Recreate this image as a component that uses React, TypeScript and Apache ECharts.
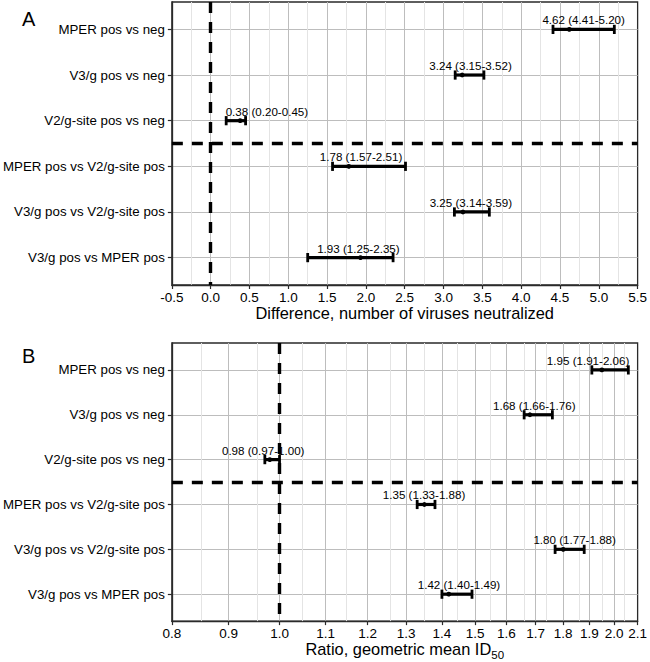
import React, { useEffect, useRef } from "react";
import * as echarts from "echarts";

// ---- data ----
const rowLabels = [
  "MPER pos vs neg",
  "V3/g pos vs neg",
  "V2/g-site pos vs neg",
  "MPER pos vs V2/g-site pos",
  "V3/g pos vs V2/g-site pos",
  "V3/g pos vs MPER pos",
];

// Panel A: difference, number of viruses neutralized
const estA = [4.62, 3.24, 0.38, 1.78, 3.25, 1.93];
const loA = [4.41, 3.15, 0.2, 1.57, 3.14, 1.25];
const hiA = [5.2, 3.52, 0.45, 2.51, 3.59, 2.35];
const labelsA = [
  "4.62 (4.41-5.20)",
  "3.24 (3.15-3.52)",
  "0.38 (0.20-0.45)",
  "1.78 (1.57-2.51)",
  "3.25 (3.14-3.59)",
  "1.93 (1.25-2.35)",
];

// Panel B: ratio, geometric mean ID50
const estB = [1.95, 1.68, 0.98, 1.35, 1.8, 1.42];
const loB = [1.91, 1.66, 0.97, 1.33, 1.77, 1.4];
const hiB = [2.06, 1.76, 1.0, 1.38, 1.88, 1.49];
const labelsB = [
  "1.95 (1.91-2.06)",
  "1.68 (1.66-1.76)",
  "0.98 (0.97-1.00)",
  "1.35 (1.33-1.88)",
  "1.80 (1.77-1.88)",
  "1.42 (1.40-1.49)",
];
const ticksB = [0.8, 0.9, 1.0, 1.1, 1.2, 1.3, 1.4, 1.5, 1.6, 1.7, 1.8, 1.9, 2.0, 2.1];

// reference lines
const refA = 0;
const refB = 1;
const groupSplit = 2.5;

// label nudges (px), as placed in the figure
const nudgeA = [0, 1, 31, -8, -1, 8];
const nudgeB = [-22, -4, -9, -2, 5, 2];

const FONT = '"Liberation Sans", Arial, Helvetica, sans-serif';
const MAJOR = "#bdbdbd";
const MINOR = "#e4e4e4";
const BORDER = "#2a2a2a";

export default function App() {
  const ref = useRef<HTMLDivElement>(null);

  useEffect(() => {
    const chart = echarts.init(ref.current as HTMLDivElement, null, { renderer: "svg" });
    const lg = (v: number) => Math.log10(v);
    const rowVals = rowLabels.map((_, i) => i);

    const makeRender =
      (labels: string[], nudge: number[]) => (params: any, api: any) => {
        const y = api.value(3);
        const pE = api.coord([api.value(0), y]);
        const pL = api.coord([api.value(1), y]);
        const pH = api.coord([api.value(2), y]);
        const idx = params.dataIndex;
        const cap = 4.6;
        return {
          type: "group",
          children: [
            { type: "line", shape: { x1: pL[0], y1: pL[1], x2: pH[0], y2: pH[1] }, style: { stroke: "#000", lineWidth: 3.2 } },
            { type: "line", shape: { x1: pL[0], y1: pL[1] - cap, x2: pL[0], y2: pL[1] + cap }, style: { stroke: "#000", lineWidth: 2.8 } },
            { type: "line", shape: { x1: pH[0], y1: pH[1] - cap, x2: pH[0], y2: pH[1] + cap }, style: { stroke: "#000", lineWidth: 2.8 } },
            { type: "circle", shape: { cx: pE[0], cy: pE[1], r: 2.4 }, style: { fill: "#000" } },
            {
              type: "text",
              x: (pL[0] + pH[0]) / 2 + nudge[idx],
              y: pE[1] - 9.5,
              style: {
                text: labels[idx],
                fill: "#000",
                fontSize: 11.6,
                fontFamily: FONT,
                textAlign: "center",
                textVerticalAlign: "middle",
                align: "center",
                verticalAlign: "middle",
              },
            },
          ],
        };
      };

    const yAxisBase = (gridIndex: number) => ({
      type: "value",
      gridIndex,
      inverse: true,
      min: -0.6,
      max: 5.6,
      axisLine: { show: true, onZero: false, lineStyle: { color: BORDER, width: 1.3 } },
      axisTick: { show: true, length: 4, customValues: rowVals, lineStyle: { color: BORDER, width: 1.2 } },
      axisLabel: {
        customValues: rowVals,
        formatter: (v: number) => rowLabels[Math.round(v)] ?? "",
        color: "#000",
        fontSize: 13.3,
        fontFamily: FONT,
        margin: 7,
      },
      splitLine: { show: true, lineStyle: { color: MAJOR, width: 1 } },
    });

    const dashStyle = { color: "#000", width: 3.4, type: [11, 9] as any };

    const option: any = {
      animation: false,
      backgroundColor: "#fff",
      grid: [
        { left: 170, top: 2, width: 468, height: 283, show: true, borderColor: BORDER, borderWidth: 1.3, backgroundColor: "transparent" },
        { left: 170, top: 343, width: 468, height: 280, show: true, borderColor: BORDER, borderWidth: 1.3, backgroundColor: "transparent" },
      ],
      xAxis: [
        {
          type: "value",
          gridIndex: 0,
          min: -0.5,
          max: 5.5,
          interval: 0.5,
          axisLine: { show: true, onZero: false, lineStyle: { color: BORDER, width: 1.3 } },
          axisTick: { show: true, length: 4, lineStyle: { color: BORDER, width: 1.2 } },
          axisLabel: { formatter: (v: number) => v.toFixed(1), color: "#000", fontSize: 13.5, fontFamily: FONT, margin: 5 },
          splitLine: { show: true, showMinLine: false, showMaxLine: false, lineStyle: { color: MAJOR, width: 1 } },
          minorTick: { show: false, splitNumber: 2 },
          minorSplitLine: { show: true, lineStyle: { color: MINOR, width: 1 } },
          name: "{t|Difference, number of viruses neutralized}",
          nameLocation: "middle",
          nameGap: 14,
          nameTextStyle: {
            rich: { t: { fontSize: 16.4, fontFamily: FONT, color: "#000", lineHeight: 24, verticalAlign: "middle" } },
          },
        },
        {
          type: "value",
          gridIndex: 1,
          min: lg(ticksB[0]),
          max: lg(ticksB[ticksB.length - 1]),
          axisLine: { show: true, onZero: false, lineStyle: { color: BORDER, width: 1.3 } },
          axisTick: { show: true, length: 4, customValues: ticksB.map(lg), lineStyle: { color: BORDER, width: 1.2 } },
          axisLabel: {
            customValues: ticksB.map(lg),
            formatter: (v: number) => Math.pow(10, v).toFixed(1),
            color: "#000",
            fontSize: 13.5,
            fontFamily: FONT,
            margin: 5,
          },
          splitLine: { show: true, showMinLine: false, showMaxLine: false, lineStyle: { color: MAJOR, width: 1 } },
          name: "{t|Ratio, geometric mean ID}{s|50}",
          nameLocation: "middle",
          nameGap: 14,
          nameTextStyle: {
            rich: {
              t: { fontSize: 16.4, fontFamily: FONT, color: "#000", lineHeight: 24, verticalAlign: "middle" },
              s: { fontSize: 11.5, fontFamily: FONT, color: "#000", verticalAlign: "bottom" },
            },
          },
        },
      ],
      yAxis: [yAxisBase(0), yAxisBase(1)],
      graphic: [
        { type: "text", left: 22, top: 9, style: { text: "A", fontSize: 20, fontFamily: FONT, fill: "#000" } },
        { type: "text", left: 22, top: 346, style: { text: "B", fontSize: 20, fontFamily: FONT, fill: "#000" } },
      ],
      series: [
        {
          type: "custom",
          xAxisIndex: 0,
          yAxisIndex: 0,
          z: 3,
          renderItem: makeRender(labelsA, nudgeA),
          encode: { x: [0, 1, 2], y: 3 },
          data: estA.map((e, i) => [e, loA[i], hiA[i], i]),
          markLine: {
            z: 1,
            silent: true,
            symbol: "none",
            label: { show: false },
            lineStyle: dashStyle,
            data: [{ xAxis: refA }, { yAxis: groupSplit }],
          },
        },
        {
          type: "custom",
          xAxisIndex: 1,
          yAxisIndex: 1,
          z: 3,
          renderItem: makeRender(labelsB, nudgeB),
          encode: { x: [0, 1, 2], y: 3 },
          data: estB.map((e, i) => [lg(e), lg(loB[i]), lg(hiB[i]), i]),
          markLine: {
            z: 1,
            silent: true,
            symbol: "none",
            label: { show: false },
            lineStyle: dashStyle,
            data: [
              ...ticksB.slice(0, -1).map((t, i) => ({
                xAxis: lg(Math.sqrt(t * ticksB[i + 1])),
                lineStyle: { color: MINOR, width: 1, type: "solid" },
              })),
              { xAxis: lg(refB) },
              { yAxis: groupSplit },
            ],
          },
        },
      ],
    };

    chart.setOption(option);
    return () => chart.dispose();
  }, []);

  return (
    <div
      ref={ref}
      style={{ position: "fixed", left: 0, top: 0, width: 650, height: 662, background: "#fff" }}
    />
  );
}
